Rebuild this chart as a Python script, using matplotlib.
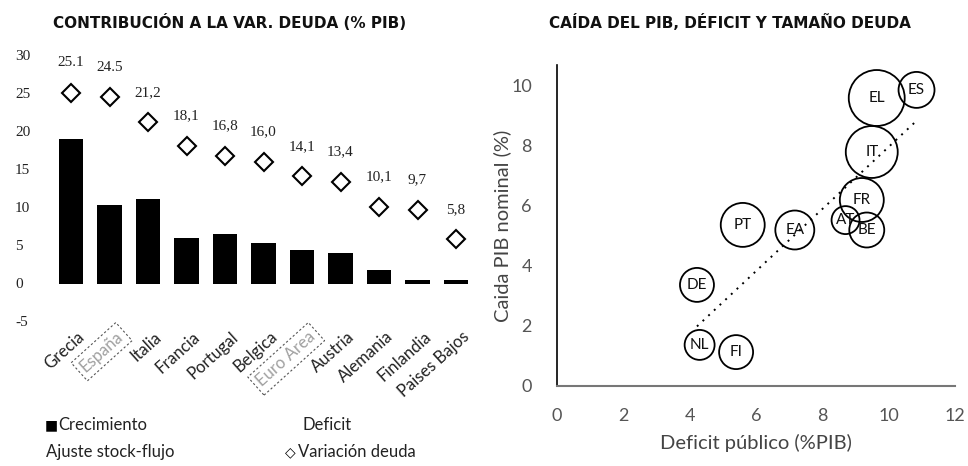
import numpy as np
import matplotlib
matplotlib.use("Agg")
import matplotlib.pyplot as plt
from matplotlib.transforms import ScaledTranslation

# ---------------- data ----------------
paises = ["Grecia", "España", "Italia", "Francia", "Portugal", "Belgica",
          "Euro Area", "Austria", "Alemania", "Finlandia", "Paises Bajos"]
crecimiento = [19.0, 10.3, 11.1, 6.0, 6.5, 5.3, 4.4, 4.0, 1.8, 0.5, 0.5]
variacion_deuda = [25.1, 24.5, 21.2, 18.1, 16.8, 16.0, 14.1, 13.4, 10.1, 9.7, 5.8]
etiquetas_var = ["25.1", "24.5", "21,2", "18,1", "16,8", "16,0", "14,1",
                 "13,4", "10,1", "9,7", "5,8"]
resaltados = ["España", "Euro Area"]
yticks_izq = [-5, 0, 5, 10, 15, 20, 25, 30]

codigos = ["EL", "ES", "IT", "FR", "AT", "BE", "PT", "EA", "DE", "NL", "FI"]
deficit = [9.64, 10.84, 9.49, 9.19, 8.70, 9.34, 5.60, 7.17, 4.22, 4.30, 5.40]
caida_pib = [9.60, 9.87, 7.80, 6.20, 5.53, 5.20, 5.37, 5.20, 3.37, 1.37, 1.13]
tamano_deuda = [784, 324, 676, 484, 196, 306, 484, 380, 289, 225, 289]
xticks_der = [0, 2, 4, 6, 8, 10, 12]
yticks_der = [0, 2, 4, 6, 8, 10]

SANS = ["Lato", "DejaVu Sans"]
SERIF = ["Liberation Serif", "DejaVu Serif"]
plt.rcParams["font.family"] = SANS

W, H = 968, 466
fig = plt.figure(figsize=(W / 100, H / 100), dpi=100)

def box(l, t, r, b):
    return [l / W, 1 - b / H, (r - l) / W, (b - t) / H]

# ---------------- left chart ----------------
ax = fig.add_axes(box(51.75, 55.5, 475.25, 321.5))
x = np.arange(len(paises))
ax.bar(x, crecimiento, width=0.63, color="black", zorder=2)
ax.plot(x, variacion_deuda, linestyle="none", marker="D", ms=9,
        mfc="white", mec="black", mew=1.5, zorder=3)
for xi, v, lab in zip(x, variacion_deuda, etiquetas_var):
    ax.annotate(lab, (xi, v), xytext=(0, 17), textcoords="offset points",
                ha="center", va="bottom", fontsize=11, family=SERIF,
                color="#222222")
ax.set_xlim(-0.5, len(paises) - 0.5)
ax.set_ylim(-5, 30)
ax.set_yticks(yticks_izq)
ax.set_yticklabels([str(t) for t in yticks_izq], family=SERIF, fontsize=11,
                   color="#222222", ha="left")
ax.tick_params(axis="y", length=0, pad=26.5)
ax.set_xticks(x)
ax.set_xticklabels(paises, rotation=42, ha="right", rotation_mode="anchor",
                   fontsize=12, color="#222222")
ax.tick_params(axis="x", length=0, pad=5)
shift = ScaledTranslation(6 / 100, 0, fig.dpi_scale_trans)
for lab in ax.get_xticklabels():
    lab.set_transform(lab.get_transform() + shift)
    if lab.get_text() in resaltados:
        lab.set_color("#a0a0a0")
        lab.set_bbox(dict(facecolor="none", edgecolor="#555555",
                          linestyle=(0, (2, 2)), linewidth=0.8, pad=3))
for s in ax.spines.values():
    s.set_visible(False)

fig.text(230 / W, 1 - 22 / H, "CONTRIBUCIÓN A LA VAR. DEUDA (% PIB)",
         ha="center", va="center", fontsize=11, fontweight="bold",
         family=["DejaVu Sans"], color="#111111")

# legend (text based)
fig.text(45 / W, 1 - 425 / H, "■", ha="left", va="center",
         fontsize=10, color="black", family=["DejaVu Sans"])
fig.text(58 / W, 1 - 425 / H, "Crecimiento", ha="left", va="center",
         fontsize=12, color="#222222")
fig.text(302 / W, 1 - 425 / H, "Deficit", ha="left", va="center",
         fontsize=12, color="#222222")
fig.text(46 / W, 1 - 452 / H, "Ajuste stock-flujo", ha="left", va="center",
         fontsize=12, color="#222222")
fig.text(285 / W, 1 - 452 / H, "◇", ha="left", va="center",
         fontsize=10, color="black", family=["DejaVu Sans"])
fig.text(298 / W, 1 - 452 / H, "Variación deuda", ha="left", va="center",
         fontsize=12, color="#222222")

# ---------------- right chart ----------------
ax2 = fig.add_axes(box(557, 65, 955, 386))
sizes = np.array(tamano_deuda) * 2.07
ax2.scatter(deficit, caida_pib, s=sizes, facecolors="none",
            edgecolors="black", linewidths=1.3, zorder=2)
for xi, yi, c in zip(deficit, caida_pib, codigos):
    ax2.text(xi, yi, c, ha="center", va="center", fontsize=11,
             color="#111111", zorder=3)
coef = np.polyfit(deficit, caida_pib, 1)
xl = np.array([min(deficit), max(deficit)])
ax2.plot(xl, np.polyval(coef, xl), linestyle=(0, (1, 3)), color="black",
         linewidth=1.4, zorder=4)
ax2.set_xlim(0, 12)
ax2.set_ylim(0, 10.7)
ax2.set_xticks(xticks_der)
ax2.set_yticks(yticks_der)
ax2.set_xticklabels([str(t) for t in xticks_der], fontsize=13,
                    color="#555555")
ax2.set_yticklabels([str(t) for t in yticks_der], fontsize=13,
                    color="#555555")
ax2.tick_params(axis="x", length=0, pad=16)
ax2.tick_params(axis="y", length=0, pad=18)
ax2.spines["top"].set_visible(False)
ax2.spines["right"].set_visible(False)
ax2.spines["left"].set_color("black")
ax2.spines["left"].set_linewidth(1.2)
ax2.spines["bottom"].set_color("#777777")
ax2.spines["bottom"].set_linewidth(1.5)
ax2.set_xlabel("Deficit público (%PIB)", fontsize=14.5, color="#444444",
               labelpad=7)
ax2.set_ylabel("Caida PIB nominal (%)", fontsize=14.5, color="#444444",
               labelpad=0)

fig.text(730 / W, 1 - 22 / H, "CAÍDA DEL PIB, DÉFICIT Y TAMAÑO DEUDA",
         ha="center", va="center", fontsize=11, fontweight="bold",
         family=["DejaVu Sans"], color="#111111")

fig.savefig("out.png", dpi=100)
